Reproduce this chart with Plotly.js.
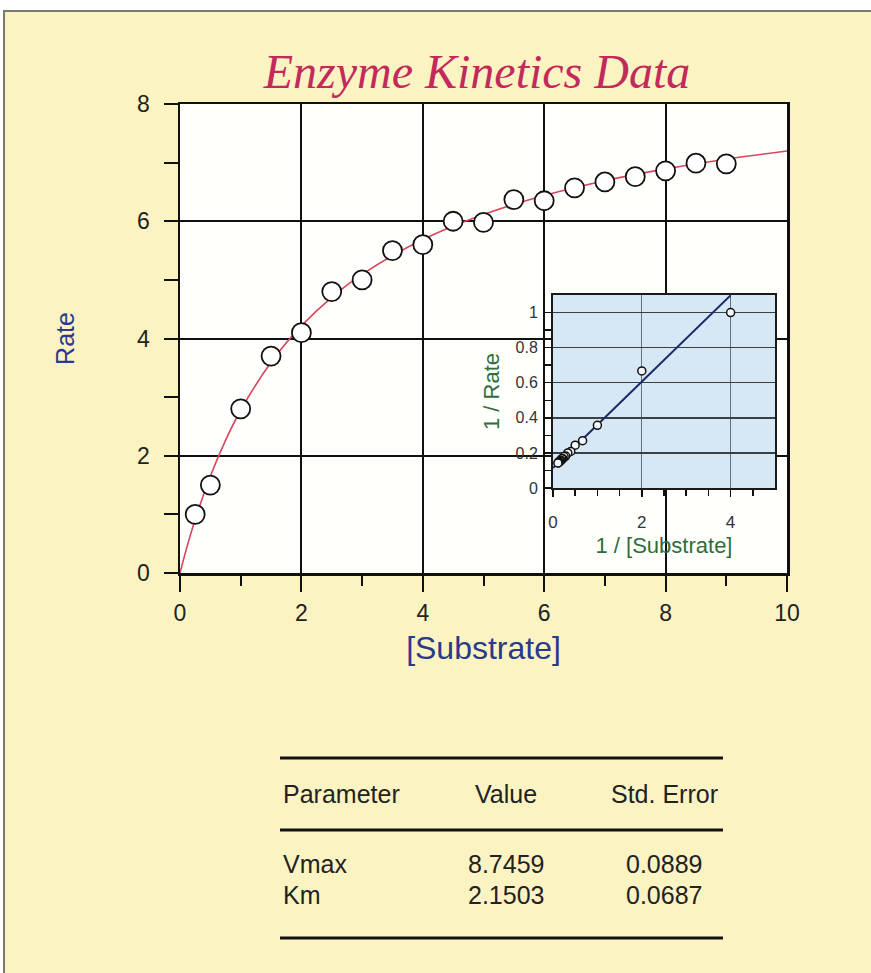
<!DOCTYPE html>
<html>
<head>
<meta charset="utf-8">
<script src="https://cdn.plot.ly/plotly-3.0.1.min.js"></script>
<style>
html,body{margin:0;padding:0;background:#ffffff;}
#chart{width:871px;height:973px;}
</style>
</head>
<body>
<div id="chart"></div>
<script>
// ---- Data ----
const substrate = [0.25, 0.5, 1, 1.5, 2, 2.5, 3, 3.5, 4, 4.5, 5, 5.5, 6, 6.5, 7, 7.5, 8, 8.5, 9];
const rate = [1.0, 1.5, 2.8, 3.7, 4.1, 4.8, 5.0, 5.5, 5.6, 6.0, 5.98, 6.37, 6.35, 6.57, 6.67, 6.76, 6.86, 6.99, 6.98];

// fitted curve (red line)
const fitSubstrate = [0, 0.05, 0.1, 0.25, 0.5, 0.75, 1, 1.5, 2, 2.5, 3, 4, 5, 6, 7, 8, 9, 10];
const fitRate = [0, 0.199, 0.389, 0.911, 1.650, 2.262, 2.776, 3.594, 4.215, 4.702, 5.094, 5.688, 6.116, 6.439, 6.691, 6.893, 7.059, 7.198];

// inset: double reciprocal plot
const invSubstrate = [4, 2, 1, 0.667, 0.5, 0.4, 0.333, 0.286, 0.25, 0.222, 0.2, 0.182, 0.167, 0.154, 0.143, 0.133, 0.125, 0.118, 0.111];
const invRate = [1.0, 0.667, 0.357, 0.270, 0.244, 0.208, 0.200, 0.182, 0.179, 0.167, 0.167, 0.157, 0.157, 0.152, 0.150, 0.148, 0.146, 0.143, 0.143];
const lbLineX = [0, 4];
const lbLineY = [0.114, 1.098];

// ticks
const xTickVals = [0, 2, 4, 6, 8, 10];
const xMinorVals = [1, 3, 5, 7, 9];
const yTickVals = [0, 2, 4, 6, 8];
const yMinorVals = [1, 3, 5, 7];
const insetXTickVals = [0, 2, 4];
const insetXMinorVals = [0.5, 1, 1.5, 2.5, 3, 3.5, 4.5];
const insetYTickVals = [0, 0.2, 0.4, 0.6, 0.8, 1];
const insetYTickText = ['0', '0.2', '0.4', '0.6', '0.8', '1'];
const insetYMinorVals = [0.1, 0.3, 0.5, 0.7, 0.9];

// parameter table
const tableHeaders = ['Parameter', 'Value', 'Std. Error'];
const paramNames = ['Vmax', 'Km'];
const paramValues = ['8.7459', '2.1503'];
const paramErrors = ['0.0889', '0.0687'];

// ---- Layout helpers (pixel -> paper) ----
const W = 871, H = 973;
const L = 180, R = 84, T = 104, B = 400;
const PW = W - L - R, PH = H - T - B;
const px = p => (p - L) / PW;
const py = p => (H - B - p) / PH;

const FONT = 'Liberation Sans, Arial, sans-serif';
const CREAM = '#fcf3c3';

const traces = [
  {
    x: fitSubstrate, y: fitRate, type: 'scatter', mode: 'lines',
    line: {color: '#d8465e', width: 1.6, shape: 'spline', smoothing: 1},
    xaxis: 'x', yaxis: 'y', hoverinfo: 'skip', showlegend: false
  },
  {
    x: substrate, y: rate, type: 'scatter', mode: 'markers',
    marker: {symbol: 'circle', size: 19, color: '#ffffff', line: {color: '#111111', width: 1.8}},
    xaxis: 'x', yaxis: 'y', showlegend: false
  },
  {
    x: lbLineX, y: lbLineY, type: 'scatter', mode: 'lines',
    line: {color: '#1c2a66', width: 2},
    xaxis: 'x2', yaxis: 'y2', hoverinfo: 'skip', showlegend: false, cliponaxis: true
  },
  {
    x: invSubstrate, y: invRate, type: 'scatter', mode: 'markers',
    marker: {symbol: 'circle', size: 8, color: '#f4f8fc', line: {color: '#111111', width: 1.5}},
    xaxis: 'x2', yaxis: 'y2', showlegend: false
  }
];

const TFONT = {family: FONT, size: 25, color: '#222222'};
const annotations = [];
const colX = [{x: 281, a: 'left'}, {x: 506, a: 'center'}, {x: 664, a: 'center'}];
tableHeaders.forEach((h, i) => {
  annotations.push({text: h, xref: 'paper', yref: 'paper', x: px(colX[i].x), y: py(794),
    xanchor: colX[i].a, yanchor: 'middle', showarrow: false, font: TFONT});
});
const rowY = [864, 895];
paramNames.forEach((n, r) => {
  const cells = [n, paramValues[r], paramErrors[r]];
  cells.forEach((c, i) => {
    annotations.push({text: c, xref: 'paper', yref: 'paper', x: px(colX[i].x), y: py(rowY[r]),
      xanchor: colX[i].a, yanchor: 'middle', showarrow: false, font: TFONT});
  });
});

const shapes = [
  // page frame (cream paper with grey top/left edge)
  {type: 'rect', xref: 'paper', yref: 'paper', x0: px(4), x1: px(890), y0: py(995), y1: py(11),
   fillcolor: CREAM, line: {color: '#7a7a72', width: 2}, layer: 'below'},
  // main plot white background
  {type: 'rect', xref: 'x', yref: 'y', x0: 0, x1: 10, y0: 0, y1: 8,
   fillcolor: '#fffffc', line: {width: 0}, layer: 'below'},
  // table rules
  {type: 'line', xref: 'paper', yref: 'paper', x0: px(280), x1: px(723), y0: py(758), y1: py(758), line: {color: '#111', width: 3}},
  {type: 'line', xref: 'paper', yref: 'paper', x0: px(280), x1: px(723), y0: py(830), y1: py(830), line: {color: '#111', width: 3}},
  {type: 'line', xref: 'paper', yref: 'paper', x0: px(280), x1: px(723), y0: py(938), y1: py(938), line: {color: '#111', width: 3}}
];

const layout = {
  width: W, height: H,
  margin: {l: L, r: R, t: T, b: B, pad: 0},
  paper_bgcolor: '#ffffff',
  plot_bgcolor: '#d6e8f5',
  showlegend: false,
  title: {
    text: 'Enzyme Kinetics Data',
    font: {family: 'Liberation Serif, Times New Roman, serif', size: 48, color: '#c22a5c', style: 'italic'},
    xref: 'paper', x: px(477), xanchor: 'center',
    yref: 'container', y: 1 - 71 / H, yanchor: 'middle'
  },
  xaxis: {
    domain: [0, 1], range: [0, 10], tickmode: 'array', tickvals: xTickVals,
    ticks: 'outside', ticklen: 16, tickwidth: 2, tickcolor: '#111',
    ticklabelstandoff: 2,
    tickfont: {family: FONT, size: 23, color: '#222'},
    showline: true, linecolor: '#111', linewidth: 2.5, mirror: true,
    showgrid: true, gridcolor: '#111', gridwidth: 2, zeroline: false,
    minor: {tickmode: 'array', tickvals: xMinorVals, ticks: 'outside', ticklen: 10, tickwidth: 2, tickcolor: '#111', showgrid: false},
    title: {text: '[Substrate]', font: {family: FONT, size: 32, color: '#2a3a8c'}, standoff: 12},
    fixedrange: true
  },
  yaxis: {
    domain: [0, 1], range: [0, 8], tickmode: 'array', tickvals: yTickVals,
    ticks: 'outside', ticklen: 14, tickwidth: 2, tickcolor: '#111',
    ticklabelstandoff: 9,
    tickfont: {family: FONT, size: 23, color: '#222'},
    showline: true, linecolor: '#111', linewidth: 2.5, mirror: true,
    showgrid: true, gridcolor: '#111', gridwidth: 2, zeroline: false,
    minor: {tickmode: 'array', tickvals: yMinorVals, ticks: 'outside', ticklen: 14, tickwidth: 2, tickcolor: '#111', showgrid: false},
    title: {text: 'Rate', font: {family: FONT, size: 25, color: '#2a3a8c'}, standoff: 56},
    fixedrange: true
  },
  xaxis2: {
    domain: [px(553), px(775)], anchor: 'y2', range: [0, 5], tickmode: 'array', tickvals: insetXTickVals,
    ticks: 'outside', ticklen: 7, tickwidth: 1.5, tickcolor: '#111',
    ticklabelstandoff: 11,
    tickfont: {family: FONT, size: 17, color: '#333'},
    showline: true, linecolor: '#1a1a1a', linewidth: 2, mirror: true,
    showgrid: true, gridcolor: '#66707a', gridwidth: 1, zeroline: false,
    minor: {tickmode: 'array', tickvals: insetXMinorVals, ticks: 'outside', ticklen: 6, tickwidth: 1.5, tickcolor: '#111', showgrid: false},
    title: {text: '1 / [Substrate]', font: {family: FONT, size: 22, color: '#2e6e3e'}, standoff: 6},
    fixedrange: true
  },
  yaxis2: {
    domain: [py(488), py(295)], anchor: 'x2', range: [0, 1.1], tickmode: 'array', tickvals: insetYTickVals, ticktext: insetYTickText,
    ticks: 'outside', ticklen: 7, tickwidth: 1.5, tickcolor: '#111',
    ticklabelstandoff: 3,
    tickfont: {family: FONT, size: 16, color: '#333'},
    showline: true, linecolor: '#1a1a1a', linewidth: 2, mirror: true,
    showgrid: true, gridcolor: '#3a3f44', gridwidth: 1.5, zeroline: false,
    minor: {tickmode: 'array', tickvals: insetYMinorVals, ticks: 'outside', ticklen: 6, tickwidth: 1.5, tickcolor: '#111', showgrid: false},
    title: {text: '1 / Rate', font: {family: FONT, size: 22, color: '#2e6e3e'}, standoff: 10},
    fixedrange: true
  },
  shapes: shapes,
  annotations: annotations
};

Plotly.newPlot('chart', traces, layout, {displayModeBar: false, staticPlot: true});
</script>
</body>
</html>
